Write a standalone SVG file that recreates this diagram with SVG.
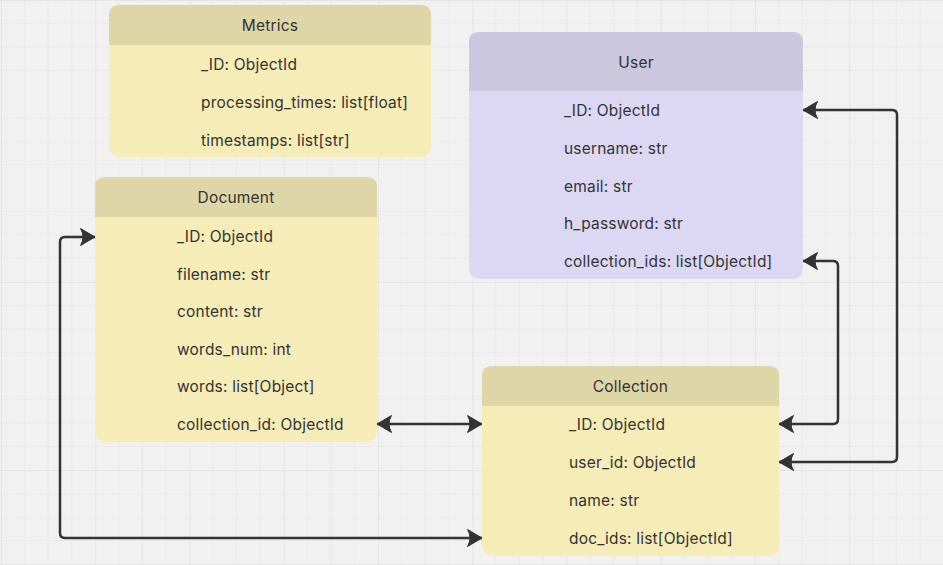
<svg xmlns="http://www.w3.org/2000/svg" width="943" height="565" viewBox="0 0 943 565">
<style>
.txt{font-family:Inter,"Noto Sans","Liberation Sans",sans-serif;font-size:15.5px;letter-spacing:0.2px;fill:#333333}
.ttl{text-anchor:middle}
.ybody{fill:#f5ecb8}
.yhead{fill:#ded6a6}
.pbody{fill:#dcd8f4}
.phead{fill:#cac7df}
.conn{fill:none;stroke:#333333;stroke-width:2.5;marker-start:url(#arr);marker-end:url(#arr)}
</style>
<defs>
<pattern id="grid" patternUnits="userSpaceOnUse" x="1" y="0" width="94.25" height="94">
<rect width="94.25" height="94" fill="#f1f1f1"/>
<g stroke="#e9e9e9" stroke-width="1">
<line x1="23.56" y1="0" x2="23.56" y2="94"/>
<line x1="47.12" y1="0" x2="47.12" y2="94"/>
<line x1="70.69" y1="0" x2="70.69" y2="94"/>
<line x1="0" y1="23.5" x2="94.25" y2="23.5"/>
<line x1="0" y1="47" x2="94.25" y2="47"/>
<line x1="0" y1="70.5" x2="94.25" y2="70.5"/>
</g>
<g stroke="#e2e2e2" stroke-width="1.5">
<line x1="0" y1="0" x2="0" y2="94"/>
<line x1="0" y1="0" x2="94.25" y2="0"/>
</g>
</pattern>
<marker id="arr" markerUnits="userSpaceOnUse" markerWidth="16" markerHeight="18" viewBox="0 -9 16 18" refX="14.5" refY="0" orient="auto-start-reverse" overflow="visible">
<path d="M14.5,0 L0,-8.5 Q5,0 0,8.5 Z" fill="#333333" stroke="#333333" stroke-width="1" stroke-linejoin="round"/>
</marker>
</defs>
<rect width="943" height="565" fill="url(#grid)"/>

<g id="metrics">
<rect class="ybody" x="109" y="5" width="322" height="152" rx="10"/>
<path class="yhead" d="M109,45 V15 Q109,5 119,5 H421 Q431,5 431,15 V45 Z"/>
<text class="txt ttl" x="270" y="31">Metrics</text>
<text class="txt" x="201" y="70">_ID: ObjectId</text>
<text class="txt" x="201" y="108">processing_times: list[float]</text>
<text class="txt" x="201" y="146">timestamps: list[str]</text>
</g>

<g id="document">
<rect class="ybody" x="95" y="177" width="282" height="265" rx="10"/>
<path class="yhead" d="M95,217 V187 Q95,177 105,177 H367 Q377,177 377,187 V217 Z"/>
<text class="txt ttl" x="236" y="203">Document</text>
<text class="txt" x="177" y="242">_ID: ObjectId</text>
<text class="txt" x="177" y="279.5">filename: str</text>
<text class="txt" x="177" y="317">content: str</text>
<text class="txt" x="177" y="354.5">words_num: int</text>
<text class="txt" x="177" y="392">words: list[Object]</text>
<text class="txt" x="177" y="429.5">collection_id: ObjectId</text>
</g>

<g id="user">
<rect class="pbody" x="469" y="32" width="334" height="247" rx="10"/>
<path class="phead" d="M469,91 V42 Q469,32 479,32 H793 Q803,32 803,42 V91 Z"/>
<text class="txt ttl" x="636" y="68">User</text>
<text class="txt" x="564" y="116">_ID: ObjectId</text>
<text class="txt" x="564" y="154">username: str</text>
<text class="txt" x="564" y="191.5">email: str</text>
<text class="txt" x="564" y="229">h_password: str</text>
<text class="txt" x="564" y="267">collection_ids: list[ObjectId]</text>
</g>

<g id="collection">
<rect class="ybody" x="482" y="366" width="297" height="190" rx="10"/>
<path class="yhead" d="M482,406 V376 Q482,366 492,366 H769 Q779,366 779,376 V406 Z"/>
<text class="txt ttl" x="630.5" y="392">Collection</text>
<text class="txt" x="569" y="430">_ID: ObjectId</text>
<text class="txt" x="569" y="468">user_id: ObjectId</text>
<text class="txt" x="569" y="506">name: str</text>
<text class="txt" x="569" y="544">doc_ids: list[ObjectId]</text>
</g>

<g id="connectors">
<path class="conn" d="M803,110 H892 Q897,110 897,115 V457 Q897,462 892,462 H779"/>
<path class="conn" d="M803,261 H833 Q838,261 838,266 V419 Q838,424 833,424 H779"/>
<path class="conn" d="M377,424 H482"/>
<path class="conn" d="M95,237 H65 Q60,237 60,242 V533 Q60,538 65,538 H482"/>
</g>
</svg>
